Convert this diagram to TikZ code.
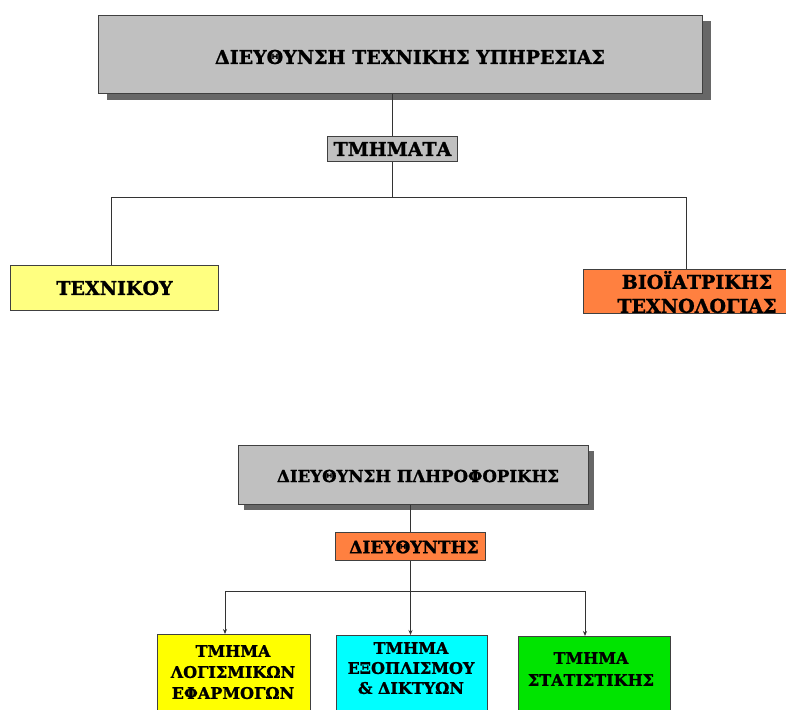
\documentclass[tikz,border=0pt]{standalone}
\usepackage{fontspec}
\setmainfont{DejaVu Serif}
\newfontfamily\heavyserif{DejaVu Serif Bold}[FakeBold=1.2]
\usetikzlibrary{shadows,arrows.meta}
\definecolor{headgray}{HTML}{C0C0C0}
\definecolor{shadowgray}{HTML}{676767}
\definecolor{paleyellow}{HTML}{FFFF80}
\definecolor{deporange}{HTML}{FF8040}
\definecolor{unityellow}{HTML}{FFFF00}
\definecolor{unitcyan}{HTML}{00FFFF}
\definecolor{unitgreen}{HTML}{00E400}
\newcommand\boxfont[2]{\heavyserif\fontsize{#1}{#2}\selectfont}
\tikzset{
  orgbox/.style={draw=black!75, line width=1pt, inner sep=0pt, anchor=north west,
    align=center},
  headbox/.style={orgbox, fill=headgray},
  tagbox/.style={orgbox, fill=headgray},
  boxtext/.style={align=center, inner sep=0pt},
  link/.style={draw=black!80, line width=1pt},
  arrowlink/.style={link, -{Stealth[length=5pt,width=4pt]}}
}
\begin{document}
\begin{tikzpicture}[x=1pt,y=-1pt]
\clip (0,0) rectangle (786,709);
\fill[white] (0,0) rectangle (786,709);

% Technical services directorate
\node[headbox, minimum width=604pt, minimum height=78pt,
  drop shadow={shadow xshift=8pt, shadow yshift=-6pt, fill=shadowgray, opacity=1}]
  (tech) at (98,15) {};
\node[boxtext, font=\boxfont{19}{23}] (techt) at (410,57) {ΔΙΕΥΘΥΝΣΗ ΤΕΧΝΙΚΗΣ ΥΠΗΡΕΣΙΑΣ};
\node[tagbox, minimum width=130pt, minimum height=25pt, font=\boxfont{19}{23}] (tm) at (327,136) {ΤΜΗΜΑΤΑ};
\node[orgbox, fill=paleyellow, minimum width=208pt, minimum height=45pt, font=\boxfont{19}{23}]
  (tek) at (10,265) {ΤΕΧΝΙΚΟΥ};
\node[orgbox, fill=deporange, minimum width=228pt, minimum height=44pt] (bio) at (583,269) {};
\node[boxtext, font=\boxfont{19}{24}] (biot) at (697,292) {ΒΙΟΪΑΤΡΙΚΗΣ\\ΤΕΧΝΟΛΟΓΙΑΣ};

\coordinate (j1) at (tm.south |- {(0,197)});
\coordinate (t1) at (111,197);
\coordinate (t2) at (686,197);
\draw[link] (tech.south -| tm.north) -- (tm.north);
\draw[link] (tm.south) -- (j1);
\draw[link] (t1) -- (t2);
\draw[link] (t1) -- (t1 |- tek.north);
\draw[link] (t2) -- (t2 |- bio.north);

% Informatics directorate
\node[headbox, minimum width=350pt, minimum height=59pt,
  drop shadow={shadow xshift=5pt, shadow yshift=-5pt, fill=shadowgray, opacity=1}]
  (inf) at (238,445) {};
\node[boxtext, font=\boxfont{16.6}{20}] (inft) at (418,476) {ΔΙΕΥΘΥΝΣΗ ΠΛΗΡΟΦΟΡΙΚΗΣ};
\node[orgbox, fill=deporange, minimum width=150pt, minimum height=28pt] (dir) at (335,532) {};
\node[boxtext, font=\boxfont{17}{20}] (dirt) at (414,547) {ΔΙΕΥΘΥΝΤΗΣ};

\node[orgbox, fill=unityellow, minimum width=153pt, minimum height=90pt] (u1) at (157,634) {};
\node[orgbox, fill=unitcyan, minimum width=151pt, minimum height=90pt] (u2) at (336,635) {};
\node[orgbox, fill=unitgreen, minimum width=152pt, minimum height=90pt] (u3) at (518,636) {};

\node[boxtext, font=\boxfont{16}{21}, anchor=north] (u1t) at (233,645)
  {ΤΜΗΜΑ\\ΛΟΓΙΣΜΙΚΩΝ\\ΕΦΑΡΜΟΓΩΝ};
\node[boxtext, font=\boxfont{16}{20}, anchor=north] (u2t) at (411,642)
  {ΤΜΗΜΑ\\ΕΞΟΠΛΙΣΜΟΥ\\\&~ΔΙΚΤΥΩΝ};
\node[boxtext, font=\boxfont{16}{22}, anchor=north] (u3t) at (591,652)
  {ΤΜΗΜΑ\\ΣΤΑΤΙΣΤΙΚΗΣ};

\coordinate (j2) at (dir.south |- {(0,591)});
\coordinate (a1) at (225,591);
\coordinate (a3) at (585,591);
\draw[link] (inf.south -| dir.north) -- (dir.north);
\draw[link] (dir.south) -- (j2);
\draw[link] (a1) -- (a3);
\draw[arrowlink] (a1) -- (a1 |- u1.north);
\draw[arrowlink] (j2) -- (j2 |- u2.north);
\draw[arrowlink] (a3) -- (a3 |- u3.north);
\end{tikzpicture}
\end{document}
